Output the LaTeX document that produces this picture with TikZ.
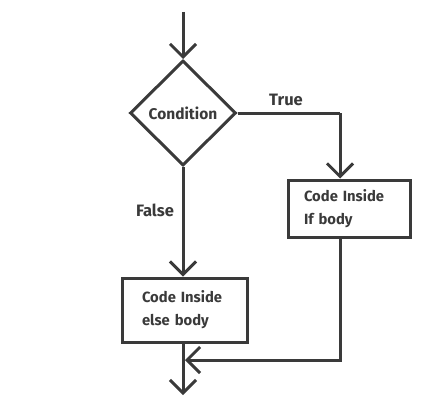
\documentclass[tikz,border=0pt]{standalone}
\usepackage{fontspec}
\setmainfont{Fira Sans}
\definecolor{ink}{HTML}{3A3A3A}
\usetikzlibrary{arrows.meta,shapes.geometric,positioning,calc}
\tikzset{
  decision/.style={diamond,draw=ink,line width=3pt,minimum width=106pt,minimum height=105pt,
    inner sep=0pt,font=\fontsize{15.5}{18}\selectfont\bfseries\color{ink}},
  codebox/.style={rectangle,draw=ink,line width=3pt,inner sep=0pt,
    font=\fontsize{14.8}{23}\selectfont\bfseries\color{ink},align=left},
  lbl/.style={font=\fontsize{16.5}{19}\selectfont\bfseries\color{ink}},
  arr/.style={-{Straight Barb[length=13pt,width=26pt,line width=3pt]},draw=ink,line width=3pt},
  ln/.style={draw=ink,line width=3pt},
}
\begin{document}
\begin{tikzpicture}[x=1pt,y=1pt]
    \useasboundingbox (0,0) rectangle (447,400);
    \node[decision] (cond) at (183,287) {Condition};
    \node[codebox,minimum width=122pt,minimum height=57pt,text width=90pt] (ifbox) at (349,191.5) {Code Inside\\If body};
    \node[codebox,minimum width=125pt,minimum height=64pt,text width=85pt] (elsebox) at (184.5,90) {Code Inside\\else body};
    \coordinate (entry) at (183,388);
    \coordinate (bend) at (340,287);
    \coordinate (join) at (185,40);
    \coordinate (exit) at (183,5);

    \draw[arr](entry)--(cond.north);
    \draw[ln](cond.east)--(bend);\draw[arr](bend)--(bend|-ifbox.north);
    \draw[arr](cond.south)--(cond.south|-elsebox.north);
    \draw[arr](bend|-ifbox.south)|-(join);
    \draw[arr](cond.south|-elsebox.south)--(exit);

    \node[lbl] (truelbl) at (286,300) {True};
    \node[lbl] (falselbl) at (155,190) {False};
  \end{tikzpicture}
\end{document}
